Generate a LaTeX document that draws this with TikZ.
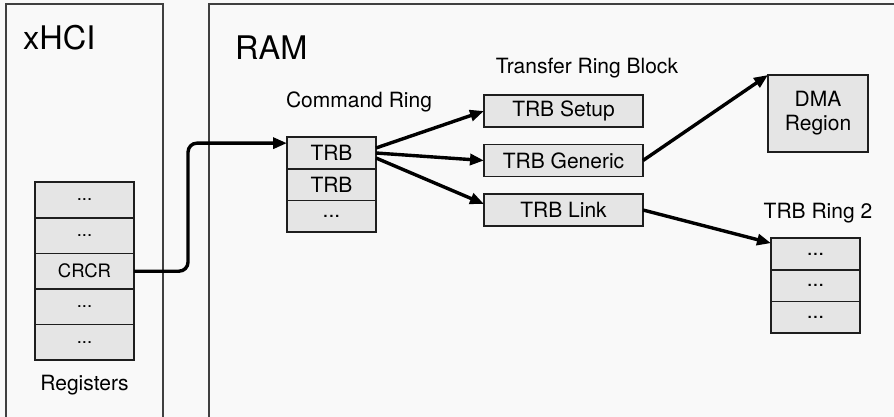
\documentclass[tikz,border=0pt]{standalone}
\usepackage{fontspec}
\setmainfont{TeX Gyre Heros}
\usetikzlibrary{arrows.meta, positioning}
\definecolor{cBack}{RGB}{249,249,249}
\definecolor{cCell}{RGB}{229,229,229}
\definecolor{cLine}{RGB}{30,30,30}

\begin{document}
\begin{tikzpicture}[x=1pt, y=-1pt,
            fr/.style={draw=cLine!85, line width=1.8pt},
            ttl/.style={anchor=west, inner sep=0pt, font=\fontsize{32.5}{36}\selectfont},
            lbl/.style={inner sep=0pt, font=\fontsize{21}{24}\selectfont},
            cell/.style={draw=cLine, fill=cCell, line width=1.6pt, outer sep=0pt, inner sep=0pt, font=\fontsize{21}{24}\selectfont},
            reg/.style={cell, minimum width=99pt, minimum height=35.6pt, font=\fontsize{18.5}{22}\selectfont},
            cr/.style={cell, minimum width=89pt, minimum height=31.7pt},
            trb/.style={cell, minimum width=159pt, minimum height=32pt},
            ar/.style={draw=black, line width=3.4pt, -{Triangle[length=14pt, width=11pt]}}]
            \useasboundingbox[fill=cBack] (0,0) rectangle (894,417);
            % frames
            \draw[fr] (6,425) -- (6,4) -- (163,4) -- (163,425);
            \draw[fr] (209,425) -- (209,4) -- (905,4);
            \node[ttl] (xhci) at (23,38)  {xHCI};
            \node[ttl] (ram)  at (235,48) {RAM};
            % registers
            \node[reg] (r1) at (84.5,200) {...};
            \node[reg, below=0pt of r1] (r2)   {...};
            \node[reg, below=0pt of r2] (crcr) {CRCR};
            \node[reg, below=0pt of crcr] (r4) {...};
            \node[reg, below=0pt of r4] (r5)   {...};
            \node[lbl] (regs) at (84.5,385) {Registers};
            % command ring
            \node[lbl] (cmd) at (359,102) {Command Ring};
            \node[cr] (cr1) at (331.5,153) {TRB};
            \node[cr, below=0pt of cr1] (cr2) {TRB};
            \node[cr, below=0pt of cr2] (cr3) {...};
            % transfer ring block
            \node[lbl] (tblk) at (587,68) {Transfer Ring Block};
            \node[trb] (setup) at (563.5,111)   {TRB Setup};
            \node[trb] (gen)   at (563.5,160.5) {TRB Generic};
            \node[trb] (link)  at (563.5,210)   {TRB Link};
            % targets
            \node[cell, minimum width=100pt, minimum height=77pt, align=center]
                (dma) at (818,113.5) {DMA\\Region};
            \node[lbl] (ring2) at (818,213) {TRB Ring 2};
            \node[cr] (q1) at (815.5,254) {...};
            \node[cr, below=0pt of q1] (q2) {...};
            \node[cr, below=0pt of q2] (q3) {...};
            % connectors
            \draw[ar, rounded corners=9pt] (crcr.east) -- ++(54,0) |- ([yshift=-6pt]cr1.north west);
            \draw[ar] ([yshift=5pt]cr1.east)  -- (setup.west);
            \draw[ar] (cr1.east)              -- (gen.west);
            \draw[ar] ([yshift=-5pt]cr1.east) -- ([yshift=6pt]link.west);
            \draw[ar] (gen.east)  -- (dma.north west);
            \draw[ar] (link.east) -- ([yshift=-5pt]q1.north west);
        \end{tikzpicture}
\end{document}
